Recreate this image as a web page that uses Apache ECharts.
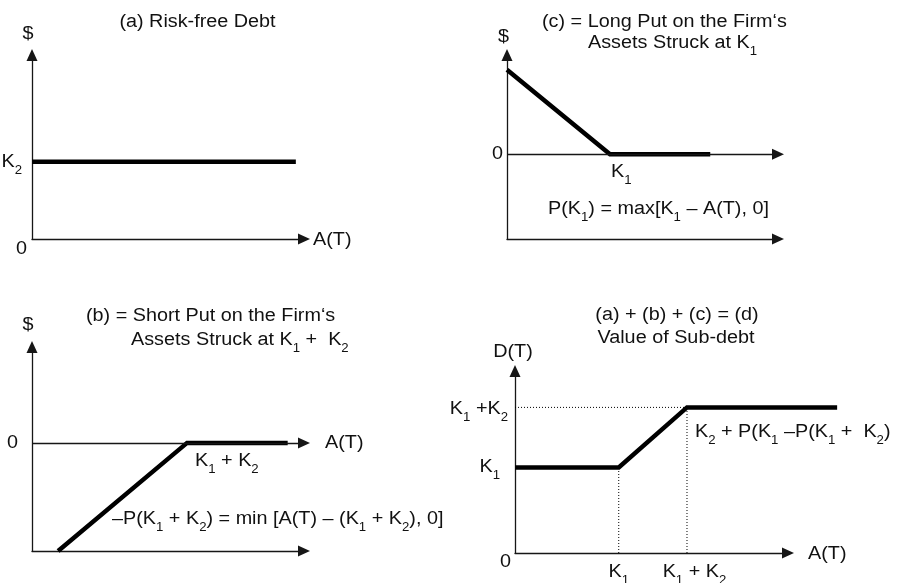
<!DOCTYPE html>
<html>
<head>
<meta charset="utf-8">
<script src="https://cdn.jsdelivr.net/npm/echarts@6/dist/echarts.min.js"></script>
<style>
  html, body { margin: 0; padding: 0; background: #fff; }
  #chart { width: 902px; height: 583px; }
</style>
</head>
<body>
<div id="chart"></div>
<script>
// Payoff profiles: [asset value A(T), payoff] in each panel's own units
const riskFreeDebt = [[0, 4.2], [9.7, 4.2]];                       // (a) pays K2
const longPutK1 = [[0, 4.6], [3.8, 0], [7.5, 0]];                  // (c) max[K1 - A(T), 0]
const shortPutK1K2 = [[0.96, -5.3], [5.7, 0], [9.4, 0]];           // (b) min[A(T) - (K1+K2), 0]
const subDebt = [[0, 4.7], [3.8, 4.7], [6.3, 8.0], [11.8, 8.0]];   // (d) = (a) + (b) + (c)

// Dotted guides in (d)
const guideTop = [[0, 8.0], [6.3, 8.0]];
const guideK1 = [[3.8, 0], [3.8, 4.7]];
const guideK1K2 = [[6.3, 0], [6.3, 8.0]];

// Axis ranges
const xRange = [0, 10];
const xRangeWide = [0, 12];   // (d) payoff runs on past the arrow of the A(T) axis
const yRangeA = [0, 10];
const yRangeC = [-4.6, 5.4];
const yRangeB = [-5.3, 4.7];
const yRangeD = [0, 10];

const AXIS_COLOR = '#161616';
const INK = '#111';
const FONT = '"Liberation Sans", Arial, Helvetica, sans-serif';
const ARROW = { symbol: ['none', 'triangle'], symbolSize: [11, 12] };

const chart = echarts.init(document.getElementById('chart'), null, { renderer: 'canvas' });

const dGrid = { left: 515, top: 371, width: 273, height: 182 };
const grids = [
  { left: 32,  top: 55,  width: 272, height: 184 },  // (a)
  { left: 507, top: 55,  width: 271, height: 184 },  // (c)
  { left: 32,  top: 347, width: 272, height: 204 },  // (b)
  dGrid,                                             // (d)
  // (d) again, same scale, wide enough for the whole payoff line
  { left: dGrid.left, top: dGrid.top,
    width: dGrid.width * (xRangeWide[1] - xRangeWide[0]) / (xRange[1] - xRange[0]),
    height: dGrid.height }
];
const yRanges = [yRangeA, yRangeC, yRangeB, yRangeD, yRangeD];
const xRanges = [xRange, xRange, xRange, xRange, xRangeWide];

function axisLine(show) {
  return {
    show: show,
    onZero: false,
    symbol: ARROW.symbol,
    symbolSize: ARROW.symbolSize,
    lineStyle: { color: AXIS_COLOR, width: 1.3 }
  };
}

const xAxes = grids.map((g, i) => ({
  type: 'value', gridIndex: i, min: xRanges[i][0], max: xRanges[i][1], show: i < 4,
  axisLine: axisLine(i < 4), axisTick: { show: false }, axisLabel: { show: false },
  splitLine: { show: false }
}));
const yAxes = grids.map((g, i) => ({
  type: 'value', gridIndex: i, min: yRanges[i][0], max: yRanges[i][1], show: i < 4,
  axisLine: axisLine(i < 4), axisTick: { show: false }, axisLabel: { show: false },
  splitLine: { show: false }
}));

function payoff(i, data, withZeroLine) {
  const s = {
    type: 'line', xAxisIndex: i, yAxisIndex: i, data: data,
    symbol: 'none', clip: false, silent: true, z: 3,
    lineStyle: { color: '#000', width: 4.5, cap: 'butt', join: 'miter' }
  };
  if (withZeroLine) {
    // A(T) axis drawn through the zero payoff level
    s.markLine = {
      silent: true, animation: false,
      symbol: ARROW.symbol, symbolSize: ARROW.symbolSize,
      label: { show: false },
      lineStyle: { color: AXIS_COLOR, width: 1.3, type: 'solid' },
      data: [[{ coord: [xRange[0], 0] }, { coord: [xRange[1], 0] }]]
    };
  }
  return s;
}
function guide(data) {
  return {
    type: 'line', xAxisIndex: 3, yAxisIndex: 3, data: data,
    symbol: 'none', clip: false, silent: true, z: 2,
    lineStyle: { color: '#000', width: 1, type: [1, 2] }
  };
}

chart.setOption({
  animation: false,
  backgroundColor: '#fff',
  grid: grids,
  xAxis: xAxes,
  yAxis: yAxes,
  series: [
    payoff(0, riskFreeDebt, false),
    payoff(1, longPutK1, true),
    payoff(2, shortPutK1K2, true),
    guide(guideTop), guide(guideK1), guide(guideK1K2),
    payoff(4, subDebt, false)
  ]
});

// Text labels: anchored on a data point of a panel, shifted by a pixel offset
const labels = [
  // (a)
  { g: 0, at: [0, 10], dx: 165.5, dy: -33, align: 'center', text: '(a) Risk-free Debt' },
  { g: 0, at: [0, 10], dx: -4, dy: -21, align: 'center', text: '$' },
  { g: 0, at: [0, 4.2], dx: -10, dy: 0, align: 'right', text: 'K{s|2}' },
  { g: 0, at: [0, 0], dx: -5, dy: 10, align: 'right', text: '0' },
  { g: 0, at: [10, 0], dx: 9, dy: 1, align: 'left', text: 'A(T)' },
  // (c)
  { g: 1, at: [0, 5.4], dx: 35, dy: -33, align: 'left', text: '(c) = Long Put on the Firm\u2018s' },
  { g: 1, at: [0, 5.4], dx: 81, dy: -11.5, align: 'left', text: 'Assets Struck at K{s|1}' },
  { g: 1, at: [0, 5.4], dx: -3.5, dy: -17.5, align: 'center', text: '$' },
  { g: 1, at: [0, 0], dx: -4, dy: 0, align: 'right', text: '0' },
  { g: 1, at: [3.8, 0], dx: 1, dy: 18, align: 'left', text: 'K{s|1}' },
  { g: 1, at: [0, 0], dx: 41, dy: 55, align: 'left', text: 'P(K{s|1}) = max[K{s|1} \u2013 A(T), 0]' },
  // (b)
  { g: 2, at: [0, 4.7], dx: 54, dy: -30.5, align: 'left', text: '(b) = Short Put on the Firm\u2018s' },
  { g: 2, at: [0, 4.7], dx: 99, dy: -7, align: 'left', text: 'Assets Struck at K{s|1} +  K{s|2}' },
  { g: 2, at: [0, 4.7], dx: -4, dy: -22, align: 'center', text: '$' },
  { g: 2, at: [0, 0], dx: -14, dy: 0, align: 'right', text: '0' },
  { g: 2, at: [10, 0], dx: 21, dy: 0, align: 'left', text: 'A(T)' },
  { g: 2, at: [5.7, 0], dx: 8, dy: 18.5, align: 'left', text: 'K{s|1} + K{s|2}' },
  { g: 2, at: [0, 0], dx: 80, dy: 76, align: 'left',
    text: '\u2013P(K{s|1} + K{s|2}) = min [A(T) \u2013 (K{s|1} + K{s|2}), 0]' },
  // (d)
  { g: 3, at: [0, 10], dx: 162, dy: -56, align: 'center', text: '(a) + (b) + (c) = (d)' },
  { g: 3, at: [0, 10], dx: 161, dy: -33, align: 'center', text: 'Value of Sub-debt' },
  { g: 3, at: [0, 10], dx: -2, dy: -19, align: 'center', text: 'D(T)' },
  { g: 3, at: [0, 8.0], dx: -7, dy: 2, align: 'right', text: 'K{s|1} +K{s|2}' },
  { g: 3, at: [0, 4.7], dx: -15, dy: 0, align: 'right', text: 'K{s|1}' },
  { g: 3, at: [0, 0], dx: -4, dy: 9, align: 'right', text: '0' },
  { g: 3, at: [3.8, 0], dx: 0, dy: 19, align: 'center', text: 'K{s|1}' },
  { g: 3, at: [6.3, 0], dx: 7.5, dy: 19, align: 'center', text: 'K{s|1} + K{s|2}' },
  { g: 3, at: [10, 0], dx: 20, dy: 1, align: 'left', text: 'A(T)' },
  { g: 3, at: [6.3, 8.0], dx: 8, dy: 25, align: 'left',
    text: 'K{s|2} + P(K{s|1} \u2013P(K{s|1} +  K{s|2})' }
];

const graphic = labels.map(l => {
  const p = chart.convertToPixel({ gridIndex: l.g }, l.at);
  return {
    type: 'text',
    x: p[0] + l.dx,
    y: p[1] + l.dy,
    scaleX: 1.1,
    silent: true,
    z: 10,
    style: {
      text: l.text,
      font: '18px ' + FONT,
      fill: INK,
      align: l.align,
      textAlign: l.align,
      verticalAlign: 'middle',
      textVerticalAlign: 'middle',
      rich: {
        // subscript: smaller and dropped below the baseline
        s: { fontSize: 12, fontFamily: FONT, fill: INK, padding: [17, 0, 0, 0] }
      }
    }
  };
});

chart.setOption({ graphic: graphic });
</script>
</body>
</html>
